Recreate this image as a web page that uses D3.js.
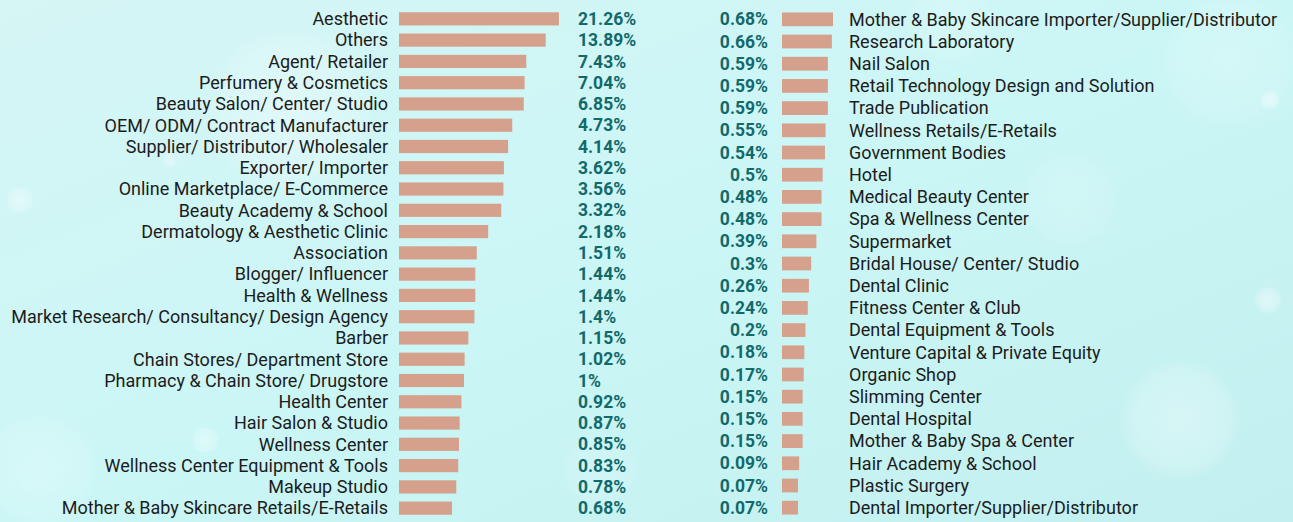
<!DOCTYPE html>
<html>
<head>
<meta charset="utf-8">
<script src="https://cdn.jsdelivr.net/npm/d3@7"></script>
<style>
  html, body { margin: 0; padding: 0; }
  body { width: 1293px; height: 522px; overflow: hidden; }
  svg { display: block; }
</style>
</head>
<body>
<svg id="chart" width="1293" height="522"></svg>
<script>
// left column
let leftNames = [
  'Aesthetic', 'Others', 'Agent/ Retailer', 'Perfumery & Cosmetics',
  'Beauty Salon/ Center/ Studio', 'OEM/ ODM/ Contract Manufacturer',
  'Supplier/ Distributor/ Wholesaler', 'Exporter/ Importer',
  'Online Marketplace/ E-Commerce', 'Beauty Academy & School',
  'Dermatology & Aesthetic Clinic', 'Association', 'Blogger/ Influencer',
  'Health & Wellness', 'Market Research/ Consultancy/ Design Agency', 'Barber',
  'Chain Stores/ Department Store', 'Pharmacy & Chain Store/ Drugstore',
  'Health Center', 'Hair Salon & Studio', 'Wellness Center',
  'Wellness Center Equipment & Tools', 'Makeup Studio',
  'Mother & Baby Skincare Retails/E-Retails'
];
let leftValues = [
  21.26, 13.89, 7.43, 7.04, 6.85, 4.73, 4.14, 3.62, 3.56, 3.32, 2.18, 1.51,
  1.44, 1.44, 1.4, 1.15, 1.02, 1, 0.92, 0.87, 0.85, 0.83, 0.78, 0.68
];

// right column
let rightNames = [
  'Mother & Baby Skincare Importer/Supplier/Distributor', 'Research Laboratory',
  'Nail Salon', 'Retail Technology Design and Solution', 'Trade Publication',
  'Wellness Retails/E-Retails', 'Government Bodies', 'Hotel',
  'Medical Beauty Center', 'Spa & Wellness Center', 'Supermarket',
  'Bridal House/ Center/ Studio', 'Dental Clinic', 'Fitness Center & Club',
  'Dental Equipment & Tools', 'Venture Capital & Private Equity',
  'Organic Shop', 'Slimming Center', 'Dental Hospital',
  'Mother & Baby Spa & Center', 'Hair Academy & School', 'Plastic Surgery',
  'Dental Importer/Supplier/Distributor'
];
let rightValues = [
  0.68, 0.66, 0.59, 0.59, 0.59, 0.55, 0.54, 0.5, 0.48, 0.48, 0.39, 0.3,
  0.26, 0.24, 0.2, 0.18, 0.17, 0.15, 0.15, 0.15, 0.09, 0.07, 0.07
];

let svg = d3.select('#chart');
let width = 1293, height = 522;

let barColor = '#d6a18c';
let labelColor = '#1c1c1c';
let valueColor = '#12696a';
let font = 'Roboto, "DejaVu Sans", sans-serif';

// background
let defs = svg.append('defs');
let bg = defs.append('linearGradient').attr('id', 'bg')
  .attr('x1', 0).attr('y1', 0).attr('x2', 1).attr('y2', 1);
bg.append('stop').attr('offset', 0).attr('stop-color', '#d6f5f5');
bg.append('stop').attr('offset', 0.5).attr('stop-color', '#cbf6f6');
bg.append('stop').attr('offset', 1).attr('stop-color', '#c2efef');

let glow = defs.append('radialGradient').attr('id', 'glow');
glow.append('stop').attr('offset', 0).attr('stop-color', '#ffffff').attr('stop-opacity', 0.55);
glow.append('stop').attr('offset', 0.8).attr('stop-color', '#ffffff').attr('stop-opacity', 0.3);
glow.append('stop').attr('offset', 1).attr('stop-color', '#ffffff').attr('stop-opacity', 0);

svg.append('rect').attr('width', width).attr('height', height).attr('fill', 'url(#bg)');

// soft bokeh spots, decoration only
let bokeh = [
  [290, 110, 85, 0.6], [1180, 420, 62, 0.6], [1230, 60, 70, 0.35],
  [40, 470, 60, 0.4], [1270, 100, 10, 0.8], [1268, 300, 14, 0.8],
  [20, 200, 14, 0.7], [205, 440, 14, 0.7], [170, 160, 8, 0.6],
  [600, 470, 40, 0.3], [950, 20, 45, 0.3], [1070, 200, 50, 0.3]
];
svg.append('g').selectAll('circle').data(bokeh).enter().append('circle')
  .attr('cx', d => d[0]).attr('cy', d => d[1]).attr('r', d => d[2])
  .attr('fill', 'url(#glow)').attr('opacity', d => d[3]);

let margin = { top: 8, bottom: 3 };

// ---- left panel
let leftData = leftNames.map((name, i) => ({ name, value: leftValues[i] }));

let yL = d3.scaleBand()
  .domain(leftNames)
  .range([margin.top, height - margin.bottom])
  .paddingInner(0.38).paddingOuter(0.2);

// bar lengths in the source grow roughly with log(value)
let xL = d3.scaleLog()
  .domain([1, 20])
  .range([65, 158]);

let leftX0 = 399;
let left = svg.append('g');

left.selectAll('rect').data(leftData).enter().append('rect')
  .attr('x', leftX0)
  .attr('y', d => yL(d.name))
  .attr('width', d => xL(d.value))
  .attr('height', yL.bandwidth())
  .attr('fill', barColor);

left.selectAll('text.label').data(leftData).enter().append('text')
  .attr('class', 'label')
  .attr('x', leftX0 - 11)
  .attr('y', d => yL(d.name) + yL.bandwidth() / 2)
  .attr('dy', '0.35em')
  .attr('text-anchor', 'end')
  .attr('font-family', font).attr('font-size', 18)
  .attr('fill', labelColor)
  .text(d => d.name);

left.selectAll('text.value').data(leftData).enter().append('text')
  .attr('class', 'value')
  .attr('x', 578)
  .attr('y', d => yL(d.name) + yL.bandwidth() / 2)
  .attr('dy', '0.35em')
  .attr('font-family', font).attr('font-size', 17.5).attr('font-weight', 700)
  .attr('fill', valueColor)
  .text(d => d.value + '%');

// ---- right panel
let rightData = rightNames.map((name, i) => ({ name, value: rightValues[i] }));

let yR = d3.scaleBand()
  .domain(rightNames)
  .range([margin.top, height - margin.bottom])
  .paddingInner(0.38).paddingOuter(0.2);

let xR = d3.scaleLinear()
  .domain([0, 0.68])
  .range([12, 51]);

let rightX0 = 782;
let right = svg.append('g');

right.selectAll('rect').data(rightData).enter().append('rect')
  .attr('x', rightX0)
  .attr('y', d => yR(d.name))
  .attr('width', d => xR(d.value))
  .attr('height', yR.bandwidth())
  .attr('fill', barColor);

right.selectAll('text.value').data(rightData).enter().append('text')
  .attr('class', 'value')
  .attr('x', 768)
  .attr('y', d => yR(d.name) + yR.bandwidth() / 2)
  .attr('dy', '0.35em')
  .attr('text-anchor', 'end')
  .attr('font-family', font).attr('font-size', 17.5).attr('font-weight', 700)
  .attr('fill', valueColor)
  .text(d => d.value + '%');

right.selectAll('text.label').data(rightData).enter().append('text')
  .attr('class', 'label')
  .attr('x', 849)
  .attr('y', d => yR(d.name) + yR.bandwidth() / 2)
  .attr('dy', '0.35em')
  .attr('font-family', font).attr('font-size', 18)
  .attr('fill', labelColor)
  .text(d => d.name);
</script>
</body>
</html>
